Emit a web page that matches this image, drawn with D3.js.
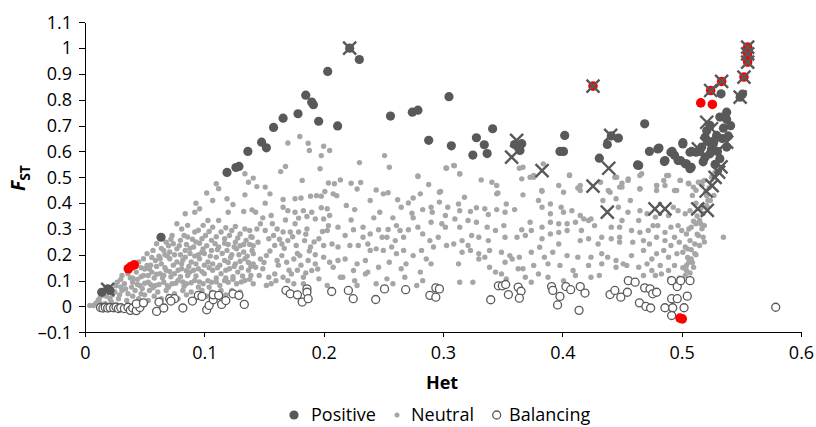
<!DOCTYPE html>
<html><head><meta charset="utf-8">
<script src="https://cdn.jsdelivr.net/npm/d3@7"></script>
<style>body{margin:0;background:#fff}svg{display:block;font-family:"Open Sans",sans-serif}</style>
</head><body><svg id="c" width="816" height="427"></svg>
<script>
const xTicks=[0,0.1,0.2,0.3,0.4,0.5,0.6];
const xTickLabels=["0","0.1","0.2","0.3","0.4","0.5","0.6"];
const yTicks=[-0.1,0,0.1,0.2,0.3,0.4,0.5,0.6,0.7,0.8,0.9,1,1.1];
const yTickLabels=["\u20130.1","0","0.1","0.2","0.3","0.4","0.5","0.6","0.7","0.8","0.9","1","1.1"];
const legendLabels=["Positive","Neutral","Balancing"];

const positive=[[0.0637,0.268],[0.014,0.055],[0.019,0.068],[0.021,0.062],
[0.119,0.519],[0.1265,0.538],[0.129,0.542],[0.1365,0.600],[0.148,0.636],[0.152,0.614],[0.158,0.693],[0.166,0.729],[0.1785,0.746],[0.185,0.818],[0.190,0.791],[0.1914,0.781],[0.1958,0.717],[0.2034,0.910],[0.2117,0.699],[0.2218,1.0],[0.2299,0.956],[0.256,0.737],[0.2743,0.752],[0.279,0.760],[0.305,0.812],[0.288,0.643],[0.307,0.622],[0.325,0.586],[0.328,0.653],[0.3346,0.626],[0.337,0.592],[0.3416,0.688],[0.360,0.627],[0.366,0.630],[0.3645,0.604],[0.363,0.615],
[0.398,0.600],[0.401,0.600],[0.402,0.662],[0.431,0.574],[0.4377,0.627],[0.447,0.652],[0.441,0.660],[0.463,0.548],[0.469,0.707],[0.473,0.600],[0.481,0.613],[0.4855,0.561],[0.492,0.600],[0.494,0.585],[0.497,0.565],[0.501,0.634],[0.503,0.552],[0.507,0.533],[0.5084,0.600],[0.480,0.610],[0.486,0.565],[0.491,0.597],[0.499,0.565],[0.501,0.629],[0.504,0.552],[0.508,0.539],[0.507,0.597],[0.512,0.597],[0.464,0.546],
[0.5377,0.752],[0.5377,0.724],[0.532,0.733],[0.5237,0.701],[0.5196,0.655],[0.5293,0.662],[0.5377,0.617],[0.5237,0.591],[0.5196,0.578],[0.532,0.572],[0.5265,0.630],[0.5168,0.617],[0.533,0.823],[0.549,0.810],[0.551,0.822],[0.521,0.680],[0.527,0.640],[0.515,0.600],[0.530,0.600],[0.535,0.690],[0.541,0.700],[0.518,0.560],[0.528,0.550],[0.522,0.640],[0.534,0.650],[0.525,0.610],[0.539,0.660]];

const highlighted=[[0.0363,0.146],[0.0385,0.155],[0.0413,0.161],[0.4257,0.853],[0.516,0.788],[0.5257,0.782],[0.5243,0.836],[0.5335,0.871],[0.5522,0.888],[0.5553,1.004],[0.5553,0.978],[0.5553,0.960],[0.5553,0.946],[0.4986,-0.045],[0.5005,-0.048]];

const flagged=[[0.019,0.066],[0.2218,1.0],[0.3617,0.643],[0.3575,0.578],[0.383,0.526],[0.4257,0.853],[0.4389,0.535],[0.4257,0.466],[0.4405,0.662],[0.4377,0.365],[0.4776,0.378],[0.486,0.378],[0.5135,0.378],[0.5215,0.372],[0.5205,0.447],[0.5255,0.468],[0.528,0.500],[0.531,0.520],[0.533,0.540],[0.514,0.610],[0.521,0.713],[0.525,0.688],[0.521,0.630],[0.5377,0.636],[0.5243,0.836],[0.5335,0.871],[0.5522,0.888],[0.5553,1.004],[0.5553,0.978],[0.5553,0.946],[0.549,0.810]];

const balancing=[[0.013,-0.004],[0.015,-0.006],[0.017,-0.003],[0.019,-0.006],[0.021,-0.004],[0.024,-0.005],[0.026,-0.002],[0.028,-0.008],[0.030,-0.005],[0.033,-0.008],[0.036,-0.003],[0.038,-0.015],[0.040,-0.006],[0.043,-0.016],[0.046,-0.004],[0.043,0.010],[0.049,0.014],[0.060,-0.019],[0.062,0.017],[0.066,-0.006],[0.071,0.030],[0.075,0.030],[0.072,0.021],[0.082,-0.006],[0.090,0.021],[0.095,0.043],[0.098,0.039],[0.102,-0.013],[0.104,0.004],[0.1075,0.026],[0.1075,0.045],[0.112,0.043],[0.1145,0.008],[0.118,0.023],[0.124,0.049],[0.129,0.043],[0.1335,0.008],
[0.1684,0.062],[0.172,0.049],[0.178,0.045],[0.182,0.017],[0.186,0.068],[0.186,0.055],[0.187,0.030],[0.2067,0.058],[0.2207,0.062],[0.2248,0.030],[0.2436,0.027],[0.251,0.068],[0.2687,0.065],[0.289,0.043],[0.294,0.072],[0.297,0.068],[0.294,0.036],[0.340,0.026],[0.3464,0.080],[0.3497,0.080],[0.3525,0.085],[0.3548,0.046],[0.363,0.075],[0.3654,0.059],[0.364,0.032],
[0.391,0.077],[0.392,0.062],[0.398,0.039],[0.396,0.006],[0.403,0.077],[0.407,0.065],[0.415,0.077],[0.419,0.052],[0.414,-0.015],[0.440,0.046],[0.444,0.062],[0.449,0.036],[0.4545,0.055],[0.4553,0.100],[0.461,0.094],[0.4646,0.014],[0.469,0.072],[0.470,0.000],[0.4735,0.068],[0.4757,0.049],[0.474,-0.006],[0.479,0.055],[0.486,-0.005],[0.4916,0.100],[0.4963,0.077],[0.4992,0.100],[0.507,0.100],[0.4916,0.030],[0.4963,0.030],[0.5047,0.040],[0.4925,-0.005],[0.502,-0.005],[0.4916,-0.035],[0.5788,-0.003]];

const neutral=[[0.134,0.514],[0.137,0.481],[0.110,0.475],[0.112,0.456],[0.102,0.439],[0.119,0.417],[0.107,0.410],[0.134,0.432],[0.093,0.400],[0.124,0.395],[0.096,0.378],[0.092,0.365],[0.084,0.359],[0.120,0.365],[0.133,0.368],[0.140,0.374],[0.103,0.333],[0.112,0.333],[0.077,0.320],[0.086,0.314],[0.092,0.288],[0.099,0.314],[0.107,0.307],[0.114,0.288],[0.123,0.294],[0.130,0.281],[0.138,0.294],[0.073,0.275],[0.068,0.249],[0.074,0.243],[0.080,0.256],[0.086,0.269],[0.098,0.262],[0.106,0.256],[0.117,0.262],[0.126,0.249],[0.135,0.256],[0.060,0.243],[0.057,0.217],[0.052,0.204],[0.049,0.185],[0.066,0.217],[0.071,0.211],[0.077,0.223],[0.084,0.217],[0.091,0.230],[0.099,0.223],[0.106,0.217],[0.112,0.230],[0.119,0.217],[0.127,0.223],[0.133,0.211],[0.140,0.217],[0.045,0.172],[0.052,0.159],[0.059,0.178],[0.064,0.165],[0.071,0.185],[0.077,0.172],[0.084,0.191],[0.089,0.172],[0.096,0.185],[0.103,0.172],[0.110,0.191],[0.117,0.178],[0.126,0.165],[0.134,0.185],[0.141,0.165],[0.031,0.120],[0.027,0.094],[0.036,0.127],[0.043,0.133],[0.049,0.120],[0.056,0.133],[0.063,0.127],[0.068,0.140],[0.075,0.127],[0.081,0.146],[0.088,0.133],[0.095,0.146],[0.100,0.127],[0.107,0.140],[0.114,0.127],[0.121,0.146],[0.128,0.133],[0.137,0.140],[0.033,0.088],[0.040,0.094],[0.046,0.081],[0.053,0.094],[0.059,0.081],[0.066,0.094],[0.073,0.088],[0.078,0.101],[0.085,0.088],[0.092,0.101],[0.099,0.088],[0.106,0.094],[0.113,0.081],[0.120,0.094],[0.127,0.088],[0.134,0.101],[0.141,0.088],[0.020,0.062],[0.015,0.043],[0.011,0.023],[0.007,0.004],[0.025,0.056],[0.031,0.062],[0.036,0.049],[0.042,0.062],[0.047,0.049],[0.054,0.062],[0.061,0.056],[0.068,0.062],[0.075,0.049],[0.082,0.062],[0.089,0.056],[0.098,0.062],[0.106,0.056],[0.114,0.062],[0.123,0.062],[0.130,0.056],[0.021,0.030],[0.028,0.030],[0.035,0.023],[0.045,0.030],[0.053,0.023],[0.064,0.030],[0.078,0.030],[0.004,0.004],[0.017,0.011],
[0.026,0.080],[0.030,0.105],[0.038,0.110],[0.044,0.105],[0.050,0.145],[0.055,0.160],[0.062,0.195],[0.067,0.200],[0.058,0.110],[0.065,0.110],[0.072,0.115],[0.080,0.115],[0.086,0.120],[0.093,0.118],[0.048,0.070],[0.057,0.072],[0.070,0.075],[0.083,0.078],[0.095,0.075],[0.104,0.075],[0.110,0.110],[0.118,0.110],[0.124,0.115],[0.132,0.118],[0.139,0.120],[0.080,0.200],[0.088,0.205],[0.095,0.200],[0.100,0.205],[0.123,0.200],[0.130,0.235],[0.138,0.240],[0.120,0.240],[0.109,0.243],[0.096,0.245],[0.085,0.240],
[0.030,0.075],[0.034,0.068],[0.039,0.075],[0.044,0.085],[0.050,0.090],[0.055,0.085],[0.062,0.085],[0.069,0.080],[0.076,0.090],[0.082,0.095],[0.089,0.092],[0.096,0.095],[0.103,0.100],[0.110,0.095],[0.117,0.100],[0.124,0.105],[0.131,0.095],[0.138,0.105],
[0.040,0.110],[0.047,0.115],[0.053,0.120],[0.060,0.125],[0.066,0.120],[0.071,0.135],[0.078,0.140],[0.085,0.138],[0.091,0.140],[0.098,0.135],[0.104,0.150],[0.111,0.150],[0.118,0.140],[0.125,0.155],[0.131,0.150],[0.139,0.155],
[0.047,0.150],[0.054,0.145],[0.060,0.155],[0.067,0.150],[0.074,0.160],[0.081,0.165],[0.087,0.155],[0.093,0.165],[0.100,0.160],[0.107,0.165],[0.113,0.160],[0.120,0.170],[0.130,0.175],[0.137,0.170],
[0.056,0.190],[0.063,0.185],[0.069,0.195],[0.075,0.200],[0.082,0.180],[0.092,0.195],[0.098,0.210],[0.105,0.195],[0.115,0.205],[0.122,0.190],[0.129,0.200],[0.136,0.195],
[0.064,0.225],[0.070,0.235],[0.079,0.235],[0.088,0.225],[0.093,0.250],[0.102,0.235],[0.111,0.220],[0.117,0.245],[0.125,0.230],[0.133,0.240],[0.141,0.235],
[0.072,0.260],[0.083,0.275],[0.090,0.260],[0.101,0.275],[0.110,0.270],[0.121,0.275],[0.128,0.265],[0.139,0.270],
[0.081,0.300],[0.095,0.295],[0.104,0.290],[0.118,0.305],[0.126,0.310],[0.134,0.300],
[0.012,0.030],[0.018,0.040],[0.023,0.045],[0.029,0.045],[0.040,0.040],[0.050,0.045],[0.058,0.040],[0.070,0.040],[0.085,0.045],[0.095,0.045],[0.102,0.040],[0.110,0.045],[0.118,0.045],[0.013,0.012],[0.022,0.018],[0.009,0.012],
[0.146,0.120],[0.150,0.170],[0.155,0.215],[0.158,0.275],[0.162,0.160],[0.167,0.225],[0.171,0.140],[0.174,0.270],[0.178,0.205],[0.181,0.160],[0.185,0.130],[0.188,0.215],[0.192,0.250],[0.195,0.145],[0.199,0.290],[0.147,0.320],[0.157,0.320],[0.163,0.260],[0.176,0.320],[0.185,0.280],[0.193,0.200],[0.160,0.100],[0.170,0.100],[0.178,0.140],
[0.180,0.658],[0.170,0.633],[0.187,0.632],[0.188,0.604],[0.200,0.620],[0.205,0.604],[0.198,0.584],[0.251,0.584],[0.230,0.557],[0.255,0.539],[0.168,0.542],[0.164,0.522],[0.197,0.533],[0.141,0.497],[0.182,0.488],[0.204,0.478],[0.214,0.490],[0.209,0.475],[0.223,0.477],[0.231,0.480],[0.228,0.455],[0.144,0.464],[0.151,0.462],[0.155,0.436],[0.244,0.451],[0.250,0.436],[0.254,0.440],[0.279,0.503],[0.288,0.472],[0.281,0.436],[0.151,0.400],[0.166,0.414],[0.176,0.417],[0.181,0.420],[0.189,0.427],[0.194,0.429],[0.198,0.427],[0.201,0.445],[0.208,0.436],[0.211,0.429],[0.219,0.391],[0.239,0.410],[0.262,0.413],[0.271,0.401],[0.275,0.420],[0.265,0.384],[0.283,0.375],[0.290,0.384],[0.291,0.365],[0.143,0.365],[0.149,0.343],[0.156,0.352],[0.166,0.384],[0.170,0.371],[0.168,0.335],[0.176,0.365],[0.179,0.342],[0.183,0.371],[0.186,0.348],[0.190,0.365],[0.193,0.339],[0.198,0.382],[0.203,0.378],[0.205,0.352],[0.200,0.339],[0.226,0.375],[0.223,0.335],[0.247,0.365],[0.242,0.343],[0.258,0.343],[0.274,0.361],[0.275,0.343],[0.290,0.326],[0.271,0.297],[0.144,0.300],[0.151,0.294],[0.161,0.300],[0.166,0.288],[0.172,0.288],[0.179,0.288],[0.186,0.300],[0.204,0.313],[0.203,0.294],[0.212,0.307],[0.218,0.275],[0.225,0.297],[0.233,0.307],[0.233,0.268],[0.239,0.281],[0.246,0.297],[0.249,0.268],[0.254,0.298],[0.261,0.313],[0.264,0.294],[0.253,0.268],[0.260,0.255],[0.267,0.268],[0.279,0.307],[0.283,0.281],[0.289,0.255],[0.140,0.268],[0.145,0.249],[0.154,0.262],[0.159,0.236],[0.165,0.242],[0.170,0.255],[0.177,0.236],[0.184,0.255],[0.189,0.230],[0.196,0.262],[0.200,0.236],[0.207,0.242],[0.212,0.230],[0.222,0.236],[0.229,0.236],[0.237,0.242],[0.239,0.217],[0.244,0.223],[0.250,0.217],[0.257,0.230],[0.261,0.204],[0.267,0.217],[0.275,0.197],[0.282,0.217],[0.286,0.184],[0.292,0.230],[0.141,0.204],[0.147,0.184],[0.152,0.197],[0.161,0.178],[0.165,0.197],[0.169,0.171],[0.175,0.184],[0.180,0.197],[0.187,0.178],[0.193,0.165],[0.200,0.191],[0.205,0.171],[0.212,0.178],[0.218,0.184],[0.228,0.165],[0.235,0.178],[0.237,0.133],[0.246,0.152],[0.255,0.171],[0.265,0.146],[0.269,0.165],[0.281,0.133],[0.290,0.165],[0.143,0.152],[0.149,0.146],[0.154,0.113],[0.159,0.126],[0.166,0.113],[0.173,0.126],[0.183,0.113],[0.190,0.139],[0.196,0.107],[0.208,0.152],[0.214,0.113],[0.225,0.139],[0.226,0.100],[0.235,0.126],[0.244,0.088],[0.253,0.107],[0.258,0.088],[0.268,0.113],[0.278,0.081],[0.283,0.100],[0.152,0.081],[0.156,0.088],[0.175,0.088],[0.183,0.088],[0.203,0.081],[0.216,0.113],[0.228,0.081],
[0.279,0.505],[0.3025,0.536],[0.3095,0.545],[0.314,0.514],[0.298,0.445],[0.332,0.490],[0.341,0.481],[0.346,0.439],[0.364,0.535],[0.373,0.500],[0.367,0.432],[0.367,0.539],[0.376,0.500],[0.384,0.552],[0.406,0.507],[0.397,0.468],[0.415,0.468],[0.432,0.481],[0.4455,0.500],[0.4553,0.494],[0.4665,0.514],[0.4875,0.507],[0.479,0.468],[0.4986,0.488],[0.5056,0.477],[0.5168,0.481],[0.448,0.462],[0.4385,0.449],[0.465,0.456],[0.4958,0.449],[0.5098,0.462],[0.3827,0.449],
[0.303,0.535],[0.309,0.546],[0.314,0.513],[0.345,0.468],[0.345,0.436],[0.366,0.494],[0.376,0.507],[0.383,0.446],[0.406,0.509],[0.401,0.442],[0.413,0.459],[0.415,0.449],[0.444,0.500],[0.450,0.477],[0.440,0.442],[0.434,0.410],[0.445,0.417],[0.297,0.442],[0.318,0.423],[0.297,0.404],[0.304,0.384],[0.313,0.397],[0.314,0.371],[0.323,0.368],[0.328,0.382],[0.335,0.378],[0.338,0.356],[0.345,0.375],[0.352,0.365],[0.353,0.397],[0.360,0.375],[0.380,0.410],[0.383,0.384],[0.390,0.397],[0.390,0.359],[0.399,0.384],[0.401,0.365],[0.408,0.371],[0.415,0.352],[0.422,0.333],[0.302,0.352],[0.310,0.339],[0.321,0.333],[0.328,0.326],[0.299,0.320],[0.302,0.307],[0.314,0.307],[0.337,0.307],[0.344,0.294],[0.351,0.313],[0.366,0.297],[0.373,0.326],[0.374,0.294],[0.383,0.307],[0.390,0.326],[0.397,0.320],[0.404,0.320],[0.411,0.326],[0.418,0.339],[0.424,0.339],[0.427,0.313],[0.416,0.294],[0.441,0.307],[0.450,0.333],[0.296,0.268],[0.303,0.236],[0.309,0.242],[0.316,0.255],[0.324,0.275],[0.330,0.268],[0.321,0.236],[0.338,0.255],[0.352,0.268],[0.362,0.268],[0.369,0.275],[0.383,0.262],[0.390,0.281],[0.397,0.287],[0.404,0.294],[0.381,0.229],[0.397,0.242],[0.415,0.255],[0.422,0.262],[0.433,0.268],[0.441,0.262],[0.430,0.242],[0.448,0.268],[0.316,0.210],[0.323,0.217],[0.330,0.204],[0.335,0.191],[0.339,0.217],[0.349,0.210],[0.356,0.197],[0.358,0.184],[0.364,0.191],[0.374,0.210],[0.385,0.191],[0.392,0.210],[0.404,0.197],[0.413,0.191],[0.424,0.191],[0.433,0.204],[0.438,0.191],[0.445,0.178],[0.313,0.165],[0.330,0.184],[0.339,0.152],[0.352,0.171],[0.363,0.146],[0.376,0.159],[0.388,0.165],[0.398,0.159],[0.409,0.139],[0.422,0.159],[0.433,0.165],[0.451,0.165],[0.314,0.094],[0.325,0.094],[0.344,0.133],[0.349,0.126],[0.353,0.107],[0.367,0.146],[0.369,0.113],[0.380,0.126],[0.374,0.094],[0.388,0.113],[0.401,0.100],[0.411,0.120],[0.424,0.113],[0.431,0.120],[0.445,0.152],
[0.455,0.488],[0.465,0.507],[0.450,0.462],[0.457,0.410],[0.447,0.384],[0.455,0.365],[0.465,0.455],[0.479,0.468],[0.485,0.488],[0.486,0.468],[0.479,0.449],[0.489,0.507],[0.494,0.449],[0.499,0.488],[0.506,0.475],[0.514,0.481],[0.519,0.488],[0.521,0.429],[0.522,0.410],[0.528,0.520],[0.465,0.371],[0.471,0.359],[0.464,0.333],[0.478,0.346],[0.489,0.352],[0.493,0.384],[0.497,0.371],[0.503,0.359],[0.507,0.371],[0.448,0.307],[0.458,0.294],[0.465,0.287],[0.472,0.294],[0.476,0.313],[0.480,0.313],[0.486,0.287],[0.491,0.307],[0.497,0.313],[0.500,0.294],[0.494,0.268],[0.504,0.281],[0.508,0.307],[0.512,0.320],[0.515,0.333],[0.517,0.301],[0.514,0.275],[0.518,0.268],[0.519,0.313],[0.511,0.242],[0.515,0.236],[0.507,0.255],[0.535,0.268],[0.448,0.249],[0.459,0.249],[0.468,0.255],[0.473,0.242],[0.479,0.268],[0.486,0.255],[0.491,0.236],[0.498,0.249],[0.503,0.230],[0.458,0.197],[0.468,0.217],[0.475,0.184],[0.479,0.204],[0.485,0.217],[0.489,0.191],[0.496,0.204],[0.501,0.210],[0.505,0.223],[0.508,0.184],[0.511,0.204],[0.454,0.159],[0.464,0.152],[0.471,0.165],[0.475,0.139],[0.482,0.159],[0.489,0.139],[0.494,0.159],[0.504,0.159],[0.506,0.171],[0.510,0.152],[0.468,0.120],[0.478,0.120],[0.483,0.126],[0.490,0.107],[0.504,0.139],
[0.509,0.430],[0.512,0.400],[0.516,0.380],[0.513,0.350],[0.518,0.360],[0.510,0.330],[0.516,0.320],[0.506,0.300],[0.513,0.280],[0.519,0.250],[0.508,0.220],[0.512,0.200],[0.505,0.190],[0.509,0.170],[0.501,0.150],[0.507,0.130],[0.503,0.120],[0.498,0.110],[0.512,0.450],[0.517,0.470],[0.523,0.460],[0.520,0.440],[0.521,0.390],[0.524,0.410],[0.525,0.500],[0.530,0.520],[0.527,0.430]];

const svg=d3.select("#c");
const x=d3.scaleLinear().domain([0,0.6]).range([85,801]);
const y=d3.scaleLinear().domain([-0.1,1.1]).range([332.3,22.3]);
const dark="#595959";

svg.append("g").attr("transform","translate(0,332.3)")
  .call(d3.axisBottom(x).tickValues(xTicks).tickFormat((d,i)=>xTickLabels[i]).tickSizeInner(5).tickSizeOuter(0).tickPadding(9));
svg.append("g").attr("transform","translate(85,0)")
  .call(d3.axisLeft(y).tickValues(yTicks).tickFormat((d,i)=>yTickLabels[i]).tickSizeInner(6).tickSizeOuter(0).tickPadding(7));
svg.selectAll(".domain,.tick line").attr("stroke","#000").attr("stroke-width",1).attr("shape-rendering","crispEdges");
svg.selectAll(".tick text").attr("font-family","'Open Sans',sans-serif").attr("font-size",18).attr("fill","#000");

const g=svg.append("g");
g.selectAll(".n").data(neutral).join("circle").attr("cx",d=>x(d[0])).attr("cy",d=>y(d[1])).attr("r",2.7).attr("fill","#a6a6a6");
g.selectAll(".b").data(balancing).join("circle").attr("cx",d=>x(d[0])).attr("cy",d=>y(d[1])).attr("r",4).attr("fill","#fff").attr("stroke",dark).attr("stroke-width",1.3);
g.selectAll(".p").data(positive).join("circle").attr("cx",d=>x(d[0])).attr("cy",d=>y(d[1])).attr("r",4.6).attr("fill",dark);
g.selectAll(".h").data(highlighted).join("circle").attr("cx",d=>x(d[0])).attr("cy",d=>y(d[1])).attr("r",4.8).attr("fill","#ff0000");
const s=6.5;
g.selectAll(".f").data(flagged).join("path")
  .attr("d",d=>{const cx=x(d[0]),cy=y(d[1]);return `M${cx-s},${cy-s}L${cx+s},${cy+s}M${cx-s},${cy+s}L${cx+s},${cy-s}`;})
  .attr("stroke",dark).attr("stroke-width",2.4).attr("fill","none");

svg.append("text").attr("x",442).attr("y",389).attr("text-anchor","middle").attr("font-size",18).attr("font-weight","bold").attr("fill","#000").text("Het");
const yt=svg.append("text").attr("transform","translate(25,178) rotate(-90)").attr("text-anchor","middle").attr("font-weight","bold").attr("fill","#000");
yt.append("tspan").attr("font-style","italic").attr("font-size",19).text("F");
yt.append("tspan").attr("font-size",14).attr("dy",5).text("ST");

const legX=[294,397,496.7], legTX=[311,411,509];
const lg=svg.append("g");
lg.append("circle").attr("cx",legX[0]).attr("cy",415).attr("r",4.6).attr("fill",dark);
lg.append("circle").attr("cx",legX[1]).attr("cy",415).attr("r",2.5).attr("fill","#a6a6a6");
lg.append("circle").attr("cx",legX[2]).attr("cy",415).attr("r",4).attr("fill","#fff").attr("stroke",dark).attr("stroke-width",1.3);
lg.selectAll("text").data(legendLabels).join("text").attr("x",(d,i)=>legTX[i]).attr("y",421).attr("font-size",18).attr("fill","#000").text(d=>d);
</script></body></html>
